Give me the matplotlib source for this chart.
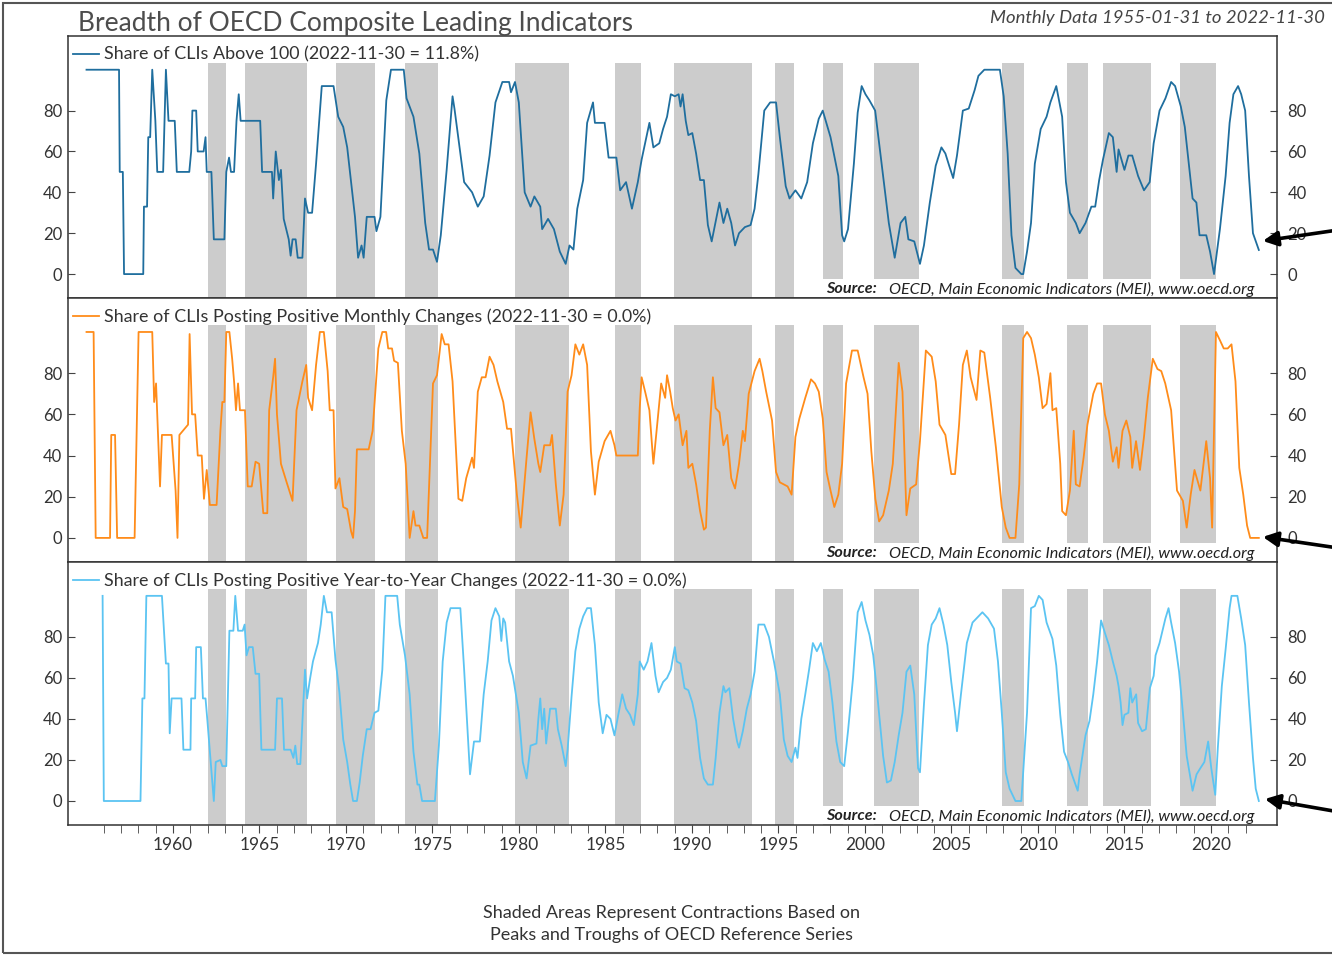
import matplotlib

matplotlib.use("Agg")

import matplotlib.pyplot as plt
from matplotlib.patches import Rectangle
from matplotlib.transforms import offset_copy, ScaledTranslation

plt.rcParams["font.family"] = ["Lato", "DejaVu Sans"]

# Contraction periods (decimal years) from OECD reference series
BAND_START = [1962.0, 1964.15, 1969.4, 1973.4, 1979.75, 1985.55, 1988.95,
              1994.8, 1997.55, 2000.55, 2007.95, 2011.7, 2013.75, 2018.2]
BAND_END = [1963.05, 1967.75, 1971.7, 1975.3, 1982.9, 1987.05, 1993.45,
            1995.9, 1998.75, 2003.15, 2009.2, 2012.9, 2016.55, 2020.3]

# Share of CLIs above 100 (%), (decimal year, value)
ABOVE_100 = [
    (1955.00, 100), (1956.88, 100), (1956.92, 50), (1957.10, 50), (1957.17, 0),
    (1958.28, 0), (1958.32, 33), (1958.50, 33), (1958.57, 67), (1958.68, 67),
    (1958.80, 100), (1958.98, 75), (1959.09, 50), (1959.43, 50), (1959.59, 100),
    (1959.74, 75), (1960.10, 75), (1960.22, 50), (1960.94, 50), (1961.05, 60),
    (1961.12, 80), (1961.34, 80), (1961.43, 60), (1961.77, 60), (1961.88, 67),
    (1961.95, 50), (1962.22, 50), (1962.36, 17), (1962.97, 17), (1963.08, 50),
    (1963.24, 57), (1963.35, 50), (1963.53, 50), (1963.67, 75), (1963.80, 88),
    (1963.91, 75), (1965.04, 75), (1965.15, 50), (1965.72, 50), (1965.79, 37),
    (1965.94, 60), (1966.12, 46), (1966.24, 51), (1966.40, 27), (1966.69, 17),
    (1966.80, 9), (1966.91, 17), (1967.09, 17), (1967.21, 8), (1967.48, 8),
    (1967.63, 37), (1967.81, 30), (1968.04, 30), (1968.27, 54), (1968.60, 92),
    (1969.28, 92), (1969.55, 77), (1969.84, 72), (1970.07, 62), (1970.52, 28),
    (1970.70, 8), (1970.90, 14), (1971.02, 8), (1971.20, 28), (1971.65, 28),
    (1971.76, 21), (1971.99, 28), (1972.33, 85), (1972.60, 100), (1973.34, 100),
    (1973.50, 86), (1973.90, 77), (1974.24, 59), (1974.58, 25), (1974.80, 12),
    (1975.03, 12), (1975.26, 6), (1975.48, 19), (1975.82, 51), (1976.16, 87),
    (1976.27, 81), (1976.61, 59), (1976.83, 45), (1977.29, 40), (1977.62, 33),
    (1977.96, 38), (1978.30, 58), (1978.64, 84), (1979.04, 94), (1979.43, 94),
    (1979.54, 89), (1979.77, 94), (1979.99, 84), (1980.33, 40), (1980.67, 33),
    (1980.89, 38), (1981.23, 33), (1981.34, 22), (1981.68, 27), (1982.02, 22),
    (1982.36, 11), (1982.70, 5), (1982.92, 14), (1983.15, 12), (1983.37, 32),
    (1983.71, 46), (1983.94, 74), (1984.28, 84), (1984.39, 74), (1984.95, 74),
    (1985.18, 57), (1985.63, 57), (1985.85, 41), (1986.19, 45), (1986.53, 32),
    (1986.87, 45), (1987.09, 56), (1987.54, 74), (1987.77, 62), (1988.11, 64),
    (1988.33, 71), (1988.56, 77), (1988.78, 88), (1989.01, 87), (1989.23, 88),
    (1989.34, 82), (1989.46, 88), (1989.64, 75), (1989.79, 68), (1990.02, 69),
    (1990.24, 59), (1990.47, 46), (1990.69, 46), (1990.92, 24), (1991.14, 16),
    (1991.59, 35), (1991.82, 25), (1992.04, 32), (1992.27, 25), (1992.49, 14),
    (1992.72, 20), (1993.06, 23), (1993.39, 24), (1993.62, 32), (1993.84, 49),
    (1994.18, 80), (1994.52, 84), (1994.86, 84), (1995.08, 67), (1995.42, 43),
    (1995.64, 37), (1995.98, 41), (1996.32, 37), (1996.66, 45), (1996.99, 64),
    (1997.33, 76), (1997.56, 80), (1998.01, 67), (1998.46, 48), (1998.68, 19),
    (1998.80, 16), (1999.02, 22), (1999.36, 54), (1999.58, 79), (1999.81, 92),
    (2000.03, 88), (2000.26, 85), (2000.59, 80), (2000.82, 64), (2001.16, 40),
    (2001.38, 25), (2001.72, 8), (2002.06, 25), (2002.33, 28), (2002.51, 17),
    (2002.85, 16), (2003.18, 5), (2003.41, 14), (2003.75, 35), (2004.09, 53),
    (2004.42, 62), (2004.65, 59), (2004.87, 53), (2005.10, 47), (2005.32, 58),
    (2005.66, 80), (2006.00, 81), (2006.34, 90), (2006.56, 97), (2006.90, 100),
    (2007.80, 100), (2008.02, 87), (2008.25, 59), (2008.47, 19), (2008.70, 3),
    (2009.04, 0), (2009.15, 0), (2009.37, 11), (2009.60, 25), (2009.82, 54),
    (2010.16, 71), (2010.50, 77), (2010.72, 84), (2011.06, 92), (2011.40, 77),
    (2011.62, 45), (2011.85, 30), (2012.19, 25), (2012.41, 20), (2012.75, 25),
    (2013.09, 33), (2013.31, 33), (2013.54, 46), (2013.76, 56), (2014.10, 69),
    (2014.33, 67), (2014.55, 50), (2014.66, 61), (2015.00, 51), (2015.23, 58),
    (2015.45, 58), (2015.79, 48), (2016.13, 41), (2016.46, 45), (2016.69, 64),
    (2017.03, 80), (2017.37, 86), (2017.70, 94), (2017.93, 92), (2018.26, 82),
    (2018.49, 72), (2018.94, 37), (2019.16, 35), (2019.34, 19), (2019.73, 19),
    (2019.95, 11), (2020.18, 0), (2020.52, 22), (2020.85, 48), (2021.08, 74),
    (2021.30, 88), (2021.57, 92), (2021.75, 88), (2021.98, 80), (2022.20, 48),
    (2022.43, 20), (2022.77, 11.8),
]

# Share of CLIs posting positive monthly changes (%)
MONTHLY_POS = [
    (1955.00, 100), (1955.41, 100), (1955.53, 0), (1956.36, 0), (1956.43, 50),
    (1956.65, 50), (1956.77, 0), (1957.78, 0), (1958.01, 100), (1958.80, 100),
    (1958.91, 66), (1959.02, 75), (1959.25, 25), (1959.36, 50), (1959.92, 50),
    (1960.15, 23), (1960.26, 0), (1960.37, 50), (1960.87, 55), (1960.96, 99),
    (1961.10, 60), (1961.28, 60), (1961.43, 40), (1961.66, 40), (1961.79, 19),
    (1961.95, 33), (1962.13, 16), (1962.52, 16), (1962.74, 52), (1962.85, 66),
    (1962.97, 66), (1963.08, 100), (1963.26, 100), (1963.42, 87), (1963.53, 76),
    (1963.64, 62), (1963.76, 75), (1963.87, 62), (1964.16, 62), (1964.32, 25),
    (1964.55, 25), (1964.77, 37), (1964.98, 36), (1965.22, 12), (1965.45, 12),
    (1965.56, 62), (1965.79, 78), (1965.90, 87), (1966.01, 60), (1966.24, 36),
    (1966.57, 27), (1966.80, 21), (1966.91, 18), (1967.14, 62), (1967.48, 76),
    (1967.70, 84), (1967.81, 68), (1968.04, 62), (1968.27, 84), (1968.49, 100),
    (1968.72, 100), (1968.94, 81), (1969.06, 62), (1969.28, 62), (1969.39, 24),
    (1969.62, 29), (1969.84, 15), (1970.07, 14), (1970.30, 3), (1970.41, 0),
    (1970.52, 13), (1970.63, 43), (1971.31, 43), (1971.54, 52), (1971.87, 92),
    (1972.10, 100), (1972.32, 100), (1972.44, 92), (1972.66, 92), (1972.78, 86),
    (1973.00, 85), (1973.23, 52), (1973.45, 36), (1973.68, 0), (1973.90, 13),
    (1974.02, 6), (1974.24, 6), (1974.47, 0), (1974.69, 0), (1975.03, 75),
    (1975.26, 79), (1975.53, 99), (1975.71, 94), (1975.93, 94), (1976.16, 76),
    (1976.50, 19), (1976.72, 18), (1976.95, 29), (1977.29, 39), (1977.40, 34),
    (1977.62, 71), (1977.85, 78), (1978.07, 78), (1978.30, 88), (1978.53, 84),
    (1978.75, 76), (1979.09, 66), (1979.31, 53), (1979.54, 53), (1979.88, 21),
    (1980.10, 5), (1980.44, 39), (1980.67, 61), (1980.89, 48), (1981.12, 36),
    (1981.23, 32), (1981.46, 45), (1981.80, 45), (1981.91, 50), (1982.13, 26),
    (1982.36, 6), (1982.58, 21), (1982.81, 71), (1983.04, 79), (1983.26, 94),
    (1983.49, 89), (1983.71, 94), (1983.94, 84), (1984.16, 42), (1984.39, 21),
    (1984.61, 37), (1984.95, 47), (1985.29, 52), (1985.52, 45), (1985.63, 40),
    (1986.87, 40), (1986.98, 63), (1987.09, 78), (1987.32, 70), (1987.54, 62),
    (1987.77, 36), (1987.99, 55), (1988.22, 75), (1988.45, 68), (1988.56, 79),
    (1988.74, 71), (1988.89, 63), (1989.05, 57), (1989.23, 60), (1989.46, 45),
    (1989.68, 52), (1989.79, 34), (1990.02, 36), (1990.24, 26), (1990.47, 13),
    (1990.69, 4), (1990.81, 5), (1991.03, 52), (1991.21, 78), (1991.37, 63),
    (1991.59, 61), (1991.82, 45), (1992.04, 50), (1992.27, 29), (1992.49, 24),
    (1992.72, 36), (1992.94, 52), (1993.06, 47), (1993.28, 70), (1993.62, 81),
    (1993.91, 87), (1994.07, 81), (1994.29, 71), (1994.63, 57), (1994.86, 32),
    (1995.08, 27), (1995.31, 26), (1995.53, 25), (1995.76, 21), (1995.98, 49),
    (1996.21, 58), (1996.55, 68), (1996.88, 77), (1997.11, 75), (1997.33, 71),
    (1997.56, 58), (1997.78, 32), (1998.01, 23), (1998.23, 15), (1998.46, 21),
    (1998.68, 36), (1998.91, 75), (1999.25, 91), (1999.58, 91), (1999.92, 78),
    (2000.15, 70), (2000.37, 42), (2000.60, 19), (2000.82, 8), (2001.05, 11),
    (2001.38, 23), (2001.61, 36), (2001.95, 85), (2002.17, 71), (2002.40, 11),
    (2002.62, 24), (2002.96, 26), (2003.18, 47), (2003.52, 91), (2003.86, 88),
    (2004.09, 76), (2004.31, 55), (2004.65, 50), (2004.99, 31), (2005.21, 31),
    (2005.44, 55), (2005.66, 84), (2005.89, 91), (2006.11, 78), (2006.45, 67),
    (2006.67, 91), (2006.90, 90), (2007.24, 68), (2007.57, 44), (2007.91, 15),
    (2008.14, 5), (2008.36, 0), (2008.70, 0), (2008.92, 26), (2009.15, 97),
    (2009.37, 100), (2009.60, 97), (2009.82, 89), (2010.05, 78), (2010.27, 63),
    (2010.50, 65), (2010.72, 80), (2010.84, 62), (2011.06, 63), (2011.29, 36),
    (2011.40, 13), (2011.62, 11), (2011.85, 23), (2012.07, 52), (2012.19, 26),
    (2012.41, 25), (2012.64, 39), (2012.86, 55), (2013.20, 70), (2013.42, 75),
    (2013.65, 75), (2013.87, 60), (2014.10, 52), (2014.33, 37), (2014.55, 44),
    (2014.66, 34), (2014.89, 52), (2015.11, 57), (2015.34, 49), (2015.45, 34),
    (2015.67, 47), (2015.90, 33), (2016.13, 49), (2016.35, 68), (2016.64, 87),
    (2016.91, 82), (2017.13, 81), (2017.36, 75), (2017.70, 62), (2018.04, 23),
    (2018.38, 18), (2018.60, 5), (2018.83, 21), (2019.05, 33), (2019.39, 23),
    (2019.73, 47), (2019.95, 29), (2020.07, 5), (2020.29, 100), (2020.52, 96),
    (2020.74, 92), (2020.97, 92), (2021.19, 94), (2021.42, 76), (2021.64, 34),
    (2021.87, 21), (2022.09, 6), (2022.27, 0), (2022.77, 0),
]

# Share of CLIs posting positive year-to-year changes (%)
YOY_POS = [
    (1955.93, 100), (1956.00, 0), (1958.12, 0), (1958.23, 50), (1958.35, 50),
    (1958.46, 100), (1959.36, 100), (1959.59, 67), (1959.74, 67), (1959.81, 33),
    (1959.92, 50), (1960.49, 50), (1960.60, 25), (1961.01, 25), (1961.05, 50),
    (1961.28, 50), (1961.34, 75), (1961.61, 75), (1961.73, 50), (1961.88, 50),
    (1961.99, 39), (1962.18, 19), (1962.36, 0), (1962.47, 19), (1962.74, 20),
    (1962.85, 17), (1963.08, 17), (1963.26, 83), (1963.49, 83), (1963.60, 100),
    (1963.76, 83), (1964.03, 83), (1964.14, 86), (1964.25, 71), (1964.39, 75),
    (1964.61, 75), (1964.77, 62), (1964.98, 62), (1965.11, 25), (1965.90, 25),
    (1966.01, 50), (1966.30, 50), (1966.42, 25), (1966.80, 25), (1966.96, 21),
    (1967.07, 27), (1967.18, 18), (1967.36, 18), (1967.63, 64), (1967.75, 50),
    (1967.93, 60), (1968.09, 68), (1968.38, 77), (1968.54, 86), (1968.72, 100),
    (1968.90, 92), (1969.17, 92), (1969.39, 69), (1969.62, 53), (1969.84, 30),
    (1970.07, 19), (1970.25, 8), (1970.41, 0), (1970.63, 0), (1970.79, 9),
    (1970.97, 22), (1971.20, 35), (1971.42, 35), (1971.65, 43), (1971.87, 44),
    (1972.10, 64), (1972.28, 100), (1972.96, 100), (1973.11, 86), (1973.41, 71),
    (1973.68, 52), (1973.90, 24), (1974.13, 8), (1974.24, 8), (1974.40, 0),
    (1975.14, 0), (1975.37, 27), (1975.59, 68), (1975.82, 87), (1976.04, 94),
    (1976.61, 94), (1976.83, 64), (1977.06, 30), (1977.17, 13), (1977.40, 29),
    (1977.74, 29), (1977.96, 52), (1978.19, 68), (1978.41, 88), (1978.64, 94),
    (1978.86, 90), (1978.98, 78), (1979.09, 89), (1979.20, 87), (1979.43, 68),
    (1979.65, 61), (1979.99, 43), (1980.22, 19), (1980.44, 11), (1980.67, 27),
    (1981.01, 28), (1981.12, 40), (1981.23, 50), (1981.34, 35), (1981.46, 45),
    (1981.57, 28), (1981.80, 45), (1982.13, 45), (1982.25, 35), (1982.47, 27),
    (1982.70, 17), (1982.81, 25), (1983.04, 51), (1983.26, 73), (1983.49, 84),
    (1983.71, 90), (1983.94, 94), (1984.16, 94), (1984.39, 76), (1984.61, 48),
    (1984.84, 33), (1985.06, 42), (1985.29, 40), (1985.52, 32), (1985.74, 42),
    (1985.97, 52), (1986.19, 45), (1986.42, 42), (1986.64, 37), (1986.87, 52),
    (1986.98, 68), (1987.21, 64), (1987.43, 68), (1987.66, 77), (1987.89, 61),
    (1988.07, 53), (1988.33, 58), (1988.56, 60), (1988.78, 64), (1989.01, 75),
    (1989.12, 68), (1989.34, 67), (1989.57, 55), (1989.79, 54), (1990.02, 48),
    (1990.24, 39), (1990.47, 21), (1990.69, 11), (1990.92, 8), (1991.21, 8),
    (1991.37, 21), (1991.59, 43), (1991.82, 56), (1991.93, 53), (1992.16, 55),
    (1992.38, 40), (1992.61, 29), (1992.72, 26), (1992.94, 34), (1993.17, 45),
    (1993.39, 52), (1993.62, 63), (1993.84, 86), (1994.18, 86), (1994.45, 80),
    (1994.74, 68), (1995.08, 52), (1995.31, 30), (1995.53, 22), (1995.76, 19),
    (1995.98, 26), (1996.10, 21), (1996.32, 40), (1996.55, 52), (1996.77, 64),
    (1996.99, 77), (1997.22, 73), (1997.45, 77), (1997.67, 69), (1997.90, 63),
    (1998.12, 48), (1998.35, 29), (1998.57, 19), (1998.80, 17), (1999.02, 34),
    (1999.31, 60), (1999.58, 92), (1999.81, 97), (2000.03, 88), (2000.26, 81),
    (2000.48, 71), (2000.71, 52), (2001.05, 22), (2001.27, 9), (2001.50, 10),
    (2001.72, 19), (2001.95, 32), (2002.17, 43), (2002.40, 63), (2002.62, 66),
    (2002.85, 52), (2003.07, 16), (2003.18, 14), (2003.41, 47), (2003.64, 76),
    (2003.86, 86), (2004.09, 89), (2004.31, 94), (2004.54, 86), (2004.76, 76),
    (2004.99, 58), (2005.21, 43), (2005.32, 34), (2005.55, 52), (2005.89, 77),
    (2006.22, 87), (2006.56, 90), (2006.79, 92), (2007.12, 89), (2007.46, 84),
    (2007.69, 68), (2007.91, 43), (2008.14, 14), (2008.36, 6), (2008.70, 0),
    (2009.04, 0), (2009.37, 43), (2009.60, 94), (2009.82, 95), (2010.05, 100),
    (2010.27, 98), (2010.50, 87), (2010.84, 79), (2011.06, 66), (2011.29, 42),
    (2011.51, 24), (2011.74, 19), (2011.96, 13), (2012.30, 5), (2012.41, 13),
    (2012.75, 32), (2012.98, 39), (2013.20, 52), (2013.42, 68), (2013.65, 88),
    (2013.87, 82), (2014.10, 76), (2014.33, 68), (2014.55, 61), (2014.66, 56),
    (2014.78, 48), (2014.89, 37), (2015.00, 42), (2015.23, 43), (2015.34, 55),
    (2015.45, 48), (2015.68, 52), (2015.79, 38), (2016.02, 34), (2016.24, 35),
    (2016.47, 55), (2016.69, 61), (2016.80, 71), (2017.03, 77), (2017.37, 89),
    (2017.55, 94), (2017.70, 87), (2017.93, 77), (2018.16, 63), (2018.38, 43),
    (2018.60, 22), (2018.94, 5), (2019.17, 13), (2019.39, 16), (2019.62, 19),
    (2019.84, 29), (2020.02, 16), (2020.25, 3), (2020.40, 26), (2020.63, 56),
    (2020.85, 74), (2021.08, 94), (2021.19, 100), (2021.53, 100), (2021.75, 89),
    (2021.98, 76), (2022.20, 48), (2022.43, 21), (2022.59, 6), (2022.77, 0),
]

SERIES = [
    ("Share of CLIs Above 100 (2022-11-30 = 11.8%)", ABOVE_100, "#1f6e9e"),
    ("Share of CLIs Posting Positive Monthly Changes (2022-11-30 = 0.0%)", MONTHLY_POS, "#ff8c1a"),
    ("Share of CLIs Posting Positive Year-to-Year Changes (2022-11-30 = 0.0%)", YOY_POS, "#5bc4f2"),
]

W, H = 1332, 956
PANELS_PX = [(36, 298), (298, 562), (562, 825)]
LEFT_PX, RIGHT_PX = 68, 1277
Y_LO, Y_HI = -11.7, 116.5
BAND_TOP = 103.5
ARROW_TIP = [(4, 9), (4, 1), (6, 2)]      # pixel offset of arrow tip from last point
ARROW_TAIL = [(1345, 229), (1345, 549), (1345, 813)]
TEXT = "#333333"


def add_panel(fig, top, bottom):
    return fig.add_axes([
        LEFT_PX / W, 1 - bottom / H,
        (RIGHT_PX - LEFT_PX) / W, (bottom - top) / H,
    ])


fig = plt.figure(figsize=(W / 100, H / 100), dpi=100)
span = RIGHT_PX - LEFT_PX

for i, ((label, data, color), (top, bottom)) in enumerate(zip(SERIES, PANELS_PX)):
    ax = add_panel(fig, top, bottom)
    years = [p[0] for p in data]
    values = [p[1] for p in data]

    frac = (BAND_TOP - Y_LO) / (Y_HI - Y_LO)
    for s, e in zip(BAND_START, BAND_END):
        ax.axvspan(s, e, ymin=0, ymax=frac, color="#cccccc", lw=0, zorder=1)

    ax.plot(years, values, color=color, lw=1.3, label=label, zorder=4)

    ax.set_xlim(1953.93, 2023.82)
    ax.set_ylim(Y_LO, Y_HI)
    ax.set_yticks([0, 20, 40, 60, 80])
    ax.tick_params(axis="y", direction="in", length=5, labelsize=12,
                   labelcolor=TEXT, color="#444444", left=True, right=True,
                   labelleft=True, labelright=True, pad=4)
    # push right-hand labels a little further out
    shift = ScaledTranslation(5 / 100, 0, fig.dpi_scale_trans)
    for tick in ax.yaxis.get_major_ticks():
        tick.label2.set_transform(tick.label2.get_transform() + shift)
    for sp in ax.spines.values():
        sp.set_color("#333333")
        sp.set_linewidth(1.1)

    if i < 2:
        ax.tick_params(axis="x", bottom=False, labelbottom=False)
    else:
        ax.set_xticks(range(1960, 2021, 5))
        ax.set_xticks(range(1956, 2023), minor=True)
        ax.tick_params(axis="x", which="both", direction="out", length=6,
                       color="#444444", labelsize=12.5, labelcolor=TEXT, pad=3)

    leg = ax.legend(loc="upper left", bbox_to_anchor=(-6 / span, 1),
                    borderaxespad=0, borderpad=0.6, frameon=False,
                    fontsize=12.9, handlelength=1.45, handletextpad=0.28)
    for t in leg.get_texts():
        t.set_color(TEXT)

    # white source box at the bottom right of each panel
    h = bottom - top
    box_l = (822 - LEFT_PX) / span
    box_r = (1259 - LEFT_PX) / span
    ax.add_patch(Rectangle((box_l, 0.004), box_r - box_l, 18 / h,
                           transform=ax.transAxes, facecolor="white",
                           edgecolor="none", zorder=3))
    ty = 9 / h
    ax.text((826 - LEFT_PX) / span, ty, "Source:",
            transform=ax.transAxes, fontsize=11.6, fontweight="bold",
            style="italic", color="#222222", va="center", zorder=5)
    ax.text((889 - LEFT_PX) / span, ty,
            "OECD, Main Economic Indicators (MEI), www.oecd.org",
            transform=ax.transAxes, fontsize=11.6, style="italic",
            color="#222222", va="center", zorder=5)

    # arrow pointing at the latest reading
    tip = offset_copy(ax.transData, fig=fig, x=ARROW_TIP[i][0],
                      y=ARROW_TIP[i][1], units="dots")
    ax.annotate("", xy=(years[-1], values[-1]), xycoords=tip,
                xytext=(ARROW_TAIL[i][0] / W, 1 - ARROW_TAIL[i][1] / H),
                textcoords="figure fraction", annotation_clip=False,
                arrowprops=dict(arrowstyle="-|>", color="black", lw=2.6,
                                mutation_scale=22, shrinkA=0, shrinkB=0))

fig.text(78 / W, 1 - 24 / H, "Breadth of OECD Composite Leading Indicators",
         fontsize=19, color="#4d4d4d", va="center", ha="left")
fig.text(1325 / W, 1 - 18 / H, "Monthly Data 1955-01-31 to 2022-11-30",
         fontsize=13.3, style="italic", color="#444444", va="center", ha="right")
fig.text(672 / W, 1 - 913 / H, "Shaded Areas Represent Contractions Based on",
         fontsize=13, color=TEXT, va="center", ha="center")
fig.text(672 / W, 1 - 935 / H, "Peaks and Troughs of OECD Reference Series",
         fontsize=13, color=TEXT, va="center", ha="center")

fig.add_artist(Rectangle((3 / W, 1 - 953 / H), 1400 / W, 950 / H,
                         transform=fig.transFigure, fill=False,
                         edgecolor="#555555", lw=1.5))

fig.savefig("out.png", dpi=100)
